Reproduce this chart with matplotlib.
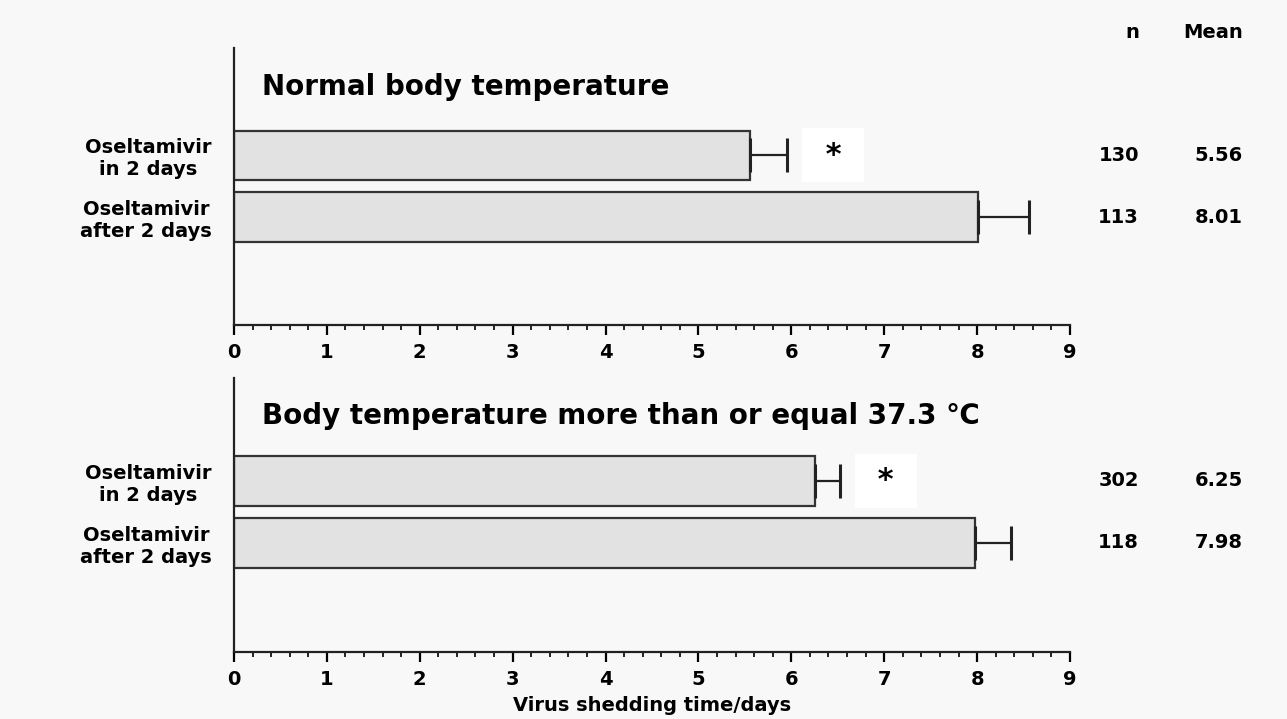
import matplotlib
matplotlib.use('Agg')
import matplotlib.pyplot as plt
from matplotlib.ticker import MultipleLocator

plt.rcParams['font.family'] = ['DejaVu Sans', 'Noto Sans CJK SC']
plt.rcParams['font.weight'] = 'bold'
plt.rcParams['axes.labelweight'] = 'bold'

# ── data ─────────────────────────────────────────────────────────────
groups = ['Oseltamivir\nin 2 days', 'Oseltamivir\nafter 2 days']
panel_titles = ['Normal body temperature',
                'Body temperature more than or equal 37.3 \u2103']
means_normal = [5.56, 8.01]
err_normal = [0.39, 0.55]
n_normal = [130, 113]
means_fever = [6.25, 7.98]
err_fever = [0.27, 0.38]
n_fever = [302, 118]
xticks = list(range(0, 10))

BG = '#f8f8f8'
BAR = '#e2e2e2'
fig = plt.figure(figsize=(12.87, 7.19), dpi=100, facecolor=BG)

ax_top = fig.add_axes([0.1818, 0.548, 0.6496, 0.385])
ax_bot = fig.add_axes([0.1818, 0.0932, 0.6496, 0.3811])


def panel(ax, title, means, errs, ns, ylim):
    ax.set_facecolor(BG)
    ypos = list(range(len(means)))
    ax.barh(ypos, means, height=0.8, color=BAR, edgecolor='#333333', linewidth=1.6)
    ax.errorbar(means, ypos, xerr=[[0] * len(errs), errs], fmt='none',
                ecolor='#222222', elinewidth=1.6, capsize=12, capthick=2.2, zorder=5)
    ax.set_xlim(0, 9)
    ax.set_ylim(*ylim)
    ax.set_yticks(ypos)
    ax.set_yticklabels(groups, fontsize=14, multialignment='center')
    ax.tick_params(axis='y', length=0, pad=16)
    ax.set_xticks(xticks)
    ax.xaxis.set_minor_locator(MultipleLocator(0.2))
    ax.tick_params(axis='x', which='major', length=7, width=1.6, labelsize=14, pad=6)
    ax.tick_params(axis='x', which='minor', length=3.5, width=1.2)
    for s in ['top', 'right']:
        ax.spines[s].set_visible(False)
    for s in ['left', 'bottom']:
        ax.spines[s].set_linewidth(1.6)
        ax.spines[s].set_color('#222222')
    ax.text(0.033, 0.86, title, transform=ax.transAxes, fontsize=20,
            ha='left', va='center')
    # significance marker on the first bar
    ax.text(means[0] + errs[0] + 0.5, ypos[0], ' * ', fontsize=22, ha='center', va='center',
            zorder=3, bbox=dict(facecolor='white', edgecolor='none', pad=9))
    # n / mean columns on the right
    for y, n, m in zip(ypos, ns, means):
        ax.text(1.0825, y, str(n), transform=ax.get_yaxis_transform(), fontsize=14,
                ha='right', va='center', clip_on=False)
        ax.text(1.207, y, f'{m:.2f}', transform=ax.get_yaxis_transform(), fontsize=14,
                ha='right', va='center', clip_on=False)


panel(ax_top, panel_titles[0], means_normal, err_normal, n_normal, (2.74, -1.73))
panel(ax_bot, panel_titles[1], means_fever, err_fever, n_fever, (2.76, -1.66))

ax_bot.set_xlabel('Virus shedding time/days', fontsize=14, labelpad=5)

fig.text(1139 / 1287, 1 - 32 / 719, 'n', fontsize=14, ha='right', va='center')
fig.text(1243 / 1287, 1 - 32 / 719, 'Mean', fontsize=14, ha='right', va='center')

fig.savefig('out.png', dpi=100, facecolor=BG)
